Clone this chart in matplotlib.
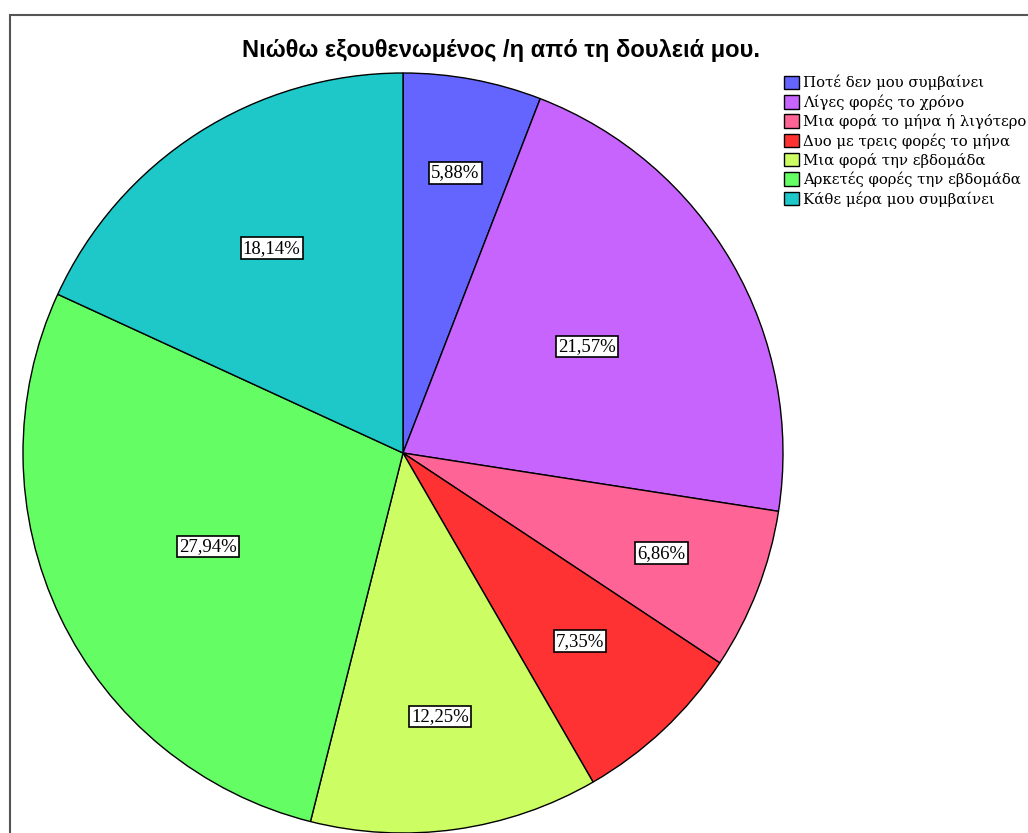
import matplotlib
matplotlib.use("Agg")
import numpy as np
import matplotlib.pyplot as plt
from matplotlib.patches import Rectangle

# Κατηγορίες και ποσοστά
categories = [
    "Ποτέ δεν μου συμβαίνει",
    "Λίγες φορές το χρόνο",
    "Μια φορά το μήνα ή λιγότερο",
    "Δυο με τρεις φορές το μήνα",
    "Μια φορά την εβδομάδα",
    "Αρκετές φορές την εβδομάδα",
    "Κάθε μέρα μου συμβαίνει",
]
percentages = [5.88, 21.57, 6.86, 7.35, 12.25, 27.94, 18.14]
colors = ["#6464fe", "#c864fe", "#fe6496", "#fe3232", "#ccfe64", "#64fe64", "#1ec8c8"]

# Απόσταση ετικετών από το κέντρο (κλάσμα ακτίνας)
label_dist = [0.75, 0.56, 0.73, 0.68, 0.70, 0.57, 0.64]

W, H = 1028, 833
fig = plt.figure(figsize=(W / 100, H / 100), dpi=100)
ax = fig.add_axes([0, 0, 1, 1])
ax.axis("off")

# Πλαίσιο γύρω από το διάγραμμα
ax.add_patch(Rectangle((9.5, -20), W + 40, H - 14.5 + 20, fill=False,
                       edgecolor="#555555", linewidth=1.5))

cx, cy, R = 403, H - 453, 380
wedges, _ = ax.pie(percentages, colors=colors, startangle=90, counterclock=False,
                   center=(cx, cy), radius=R,
                   wedgeprops=dict(edgecolor="black", linewidth=1))
ax.set_xlim(0, W)
ax.set_ylim(0, H)
ax.set_aspect("auto")

for w, p, d in zip(wedges, percentages, label_dist):
    ang = np.deg2rad((w.theta1 + w.theta2) / 2)
    x = cx + d * R * np.cos(ang)
    y = cy + d * R * np.sin(ang)
    ax.text(x, y, f"{p:.2f}%".replace(".", ","), ha="center", va="center",
            family="Liberation Serif", fontsize=13.5,
            bbox=dict(boxstyle="square,pad=0.12", facecolor="white",
                      edgecolor="black", linewidth=1.2))

fig.text(501 / W, 1 - 50 / H, "Νιώθω εξουθενωμένος /η από τη δουλειά μου.",
         ha="center", va="center", family="Liberation Sans", fontweight="bold",
         fontsize=17)

fig.legend(wedges, categories, loc="upper left",
           bbox_to_anchor=(784 / W, 1 - 75 / H), frameon=False,
           prop=dict(family="DejaVu Serif", size=10.7),
           handlelength=1.0, handleheight=1.05, handletextpad=0.3,
           labelspacing=0.27, borderpad=0, borderaxespad=0)

fig.savefig("out.png", dpi=100, facecolor="white")
